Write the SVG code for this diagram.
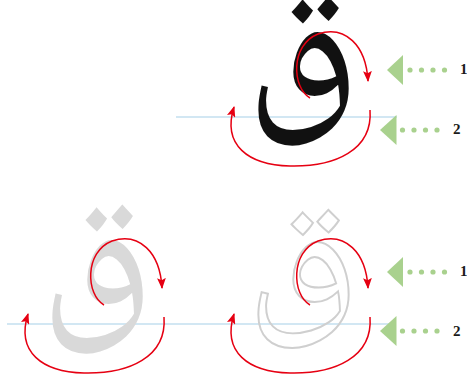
<svg xmlns="http://www.w3.org/2000/svg" width="467" height="383" viewBox="0 0 467 383">
<defs>
<style>
.base{stroke:#a6cfe8;stroke-width:1.2;fill:none}
.arr{stroke:#e60012;stroke-width:1.5;fill:none;marker-end:url(#ah)}
.tri{fill:#a9d18e}
.dot{fill:#a9d18e}
.num{font-family:"Liberation Serif",serif;font-weight:bold;font-size:15px;fill:#1a1a1a}
.qaf{font-family:"Noto Naskh Arabic","Noto Sans Arabic","Amiri","DejaVu Sans",sans-serif;font-weight:normal;font-size:180px;text-anchor:middle}
</style>
<marker id="ah" viewBox="0 0 10 8" refX="9" refY="4" markerWidth="11" markerHeight="9" markerUnits="userSpaceOnUse" orient="auto">
<path d="M0,0 L10,4 L0,8 L2,4 Z" fill="#e60012"/>
</marker>
</defs>
<rect width="467" height="383" fill="#ffffff"/>

<g id="baselines">
<line class="base" x1="176" y1="117" x2="397" y2="117"/>
<line class="base" x1="7" y1="324" x2="390" y2="324"/>
</g>

<g id="letter-top">
<text class="qaf" transform="translate(302,96) scale(0.95,1.05)" x="0" y="0" fill="#111111">ق</text>
</g>
<g id="letter-bottom-left">
<text class="qaf" transform="translate(96,304) scale(0.95,1.05)" x="0" y="0" fill="#d9d9d9">ق</text>
</g>
<g id="letter-bottom-right">
<text class="qaf" transform="translate(302,302) scale(0.95,0.98)" x="0" y="0" fill="none" stroke="#cfcfcf" stroke-width="2">ق</text>
</g>

<g id="guide-top-1">
<polygon class="tri" points="387,70 403,55 403,85"/>
<circle class="dot" cx="410" cy="70" r="2.6"/>
<circle class="dot" cx="421.5" cy="70" r="2.6"/>
<circle class="dot" cx="433" cy="70" r="2.6"/>
<circle class="dot" cx="444.5" cy="70" r="2.6"/>
<text class="num" x="460" y="74">1</text>
</g>
<g id="guide-top-2">
<polygon class="tri" points="380,130 396.5,115 396.5,145"/>
<circle class="dot" cx="402.5" cy="130" r="2.6"/>
<circle class="dot" cx="414" cy="130" r="2.6"/>
<circle class="dot" cx="425.5" cy="130" r="2.6"/>
<circle class="dot" cx="437" cy="130" r="2.6"/>
<text class="num" x="453" y="134">2</text>
</g>
<g id="guide-bottom-1">
<polygon class="tri" points="387,272 403,257 403,287"/>
<circle class="dot" cx="410" cy="272" r="2.6"/>
<circle class="dot" cx="421.5" cy="272" r="2.6"/>
<circle class="dot" cx="433" cy="272" r="2.6"/>
<circle class="dot" cx="444.5" cy="272" r="2.6"/>
<text class="num" x="460" y="276">1</text>
</g>
<g id="guide-bottom-2">
<polygon class="tri" points="380,331 396.5,316 396.5,346"/>
<circle class="dot" cx="402.5" cy="331" r="2.6"/>
<circle class="dot" cx="414" cy="331" r="2.6"/>
<circle class="dot" cx="425.5" cy="331" r="2.6"/>
<circle class="dot" cx="437" cy="331" r="2.6"/>
<text class="num" x="453" y="336">2</text>
</g>

<g id="connectors">
<path class="arr" d="M310,98 C292,88 290,45 318,34 C345,25 366,45 368,81"/>
<path class="arr" d="M370,110 C373,150 335,167 290,166 C248,165 222,145 234,107"/>
<path class="arr" d="M104,305 C86,295 84,252 112,241 C139,232 160,252 162,288"/>
<path class="arr" d="M164,317 C167,357 129,374 84,373 C42,372 16,352 28,314"/>
<path class="arr" d="M310,305 C292,295 290,252 318,241 C345,232 366,252 368,288"/>
<path class="arr" d="M370,317 C373,357 335,374 290,373 C248,372 222,352 234,314"/>
</g>
</svg>
